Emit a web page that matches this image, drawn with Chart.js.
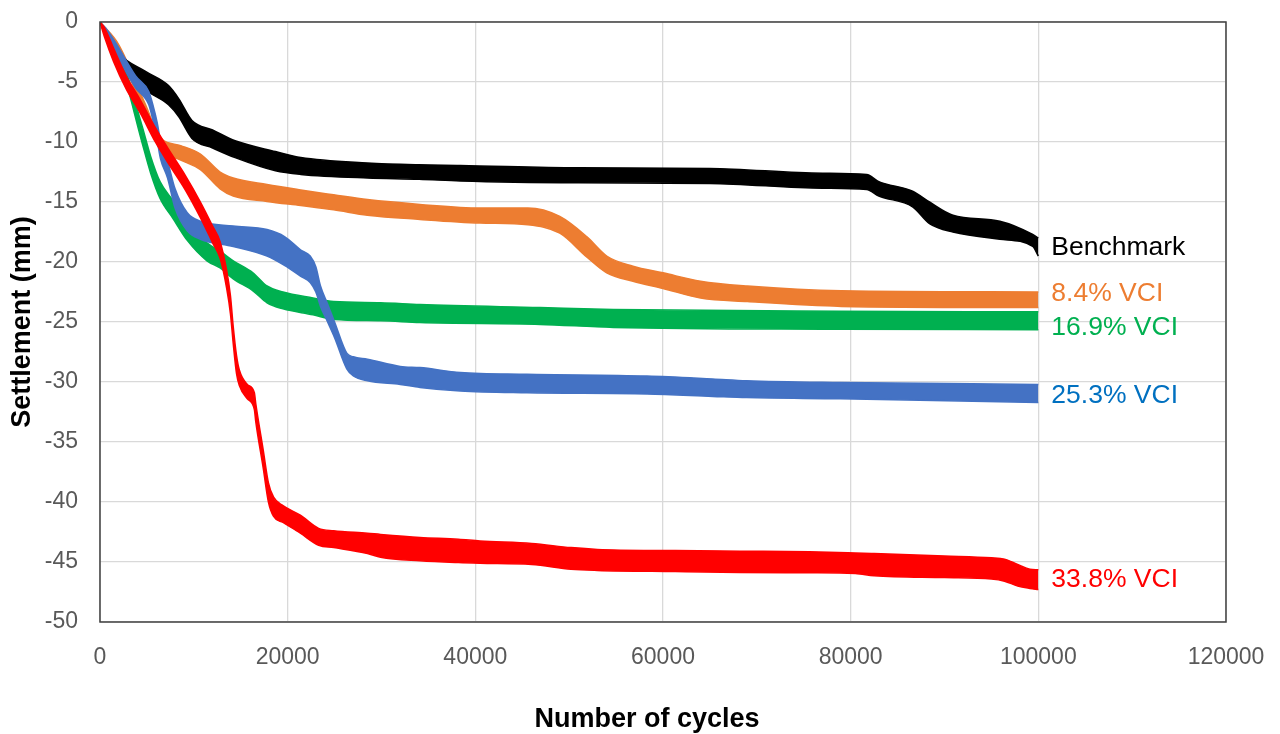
<!DOCTYPE html>
<html>
<head>
<meta charset="utf-8">
<script src="https://cdn.jsdelivr.net/npm/chart.js@4.4.1/dist/chart.umd.min.js"></script>
<style>
  body { margin: 0; background: #fff; }
  #wrap { width: 1280px; height: 734px; position: relative; }
</style>
</head>
<body>
<div id="wrap"><canvas id="settlementChart"></canvas></div>
<script>
// cycles / settlement band (upper and lower edge of the cyclic trace)
const benchX   = [0, 2000, 4800, 7300, 8400, 9800, 12000, 14400, 18700, 21400, 28500, 34000, 38400, 51000, 65000, 77000, 81700, 83000, 86600, 88400, 90900, 95900, 99400, 100000]
const benchTop = [0, -2.6, -4.1, -5.3, -6.4, -8.2, -9.0, -9.9, -10.8, -11.3, -11.75, -11.9, -11.95, -12.15, -12.2, -12.6, -12.7, -13.3, -14.1, -15.0, -16.1, -16.6, -17.7, -18.0]
const benchBot = [0, -3.1, -5.6, -6.9, -7.9, -9.7, -10.5, -11.3, -12.4, -12.7, -13.0, -13.1, -13.25, -13.4, -13.45, -13.85, -13.95, -14.5, -15.4, -16.8, -17.5, -18.1, -18.7, -19.5]

const vci84X   = [0, 2000, 4800, 6400, 8600, 10700, 12800, 14200, 17800, 21400, 24900, 28500, 34100, 40500, 45600, 49000, 51900, 54000, 56800, 60000, 64000, 69000, 79000, 100000]
const vci84Top = [0, -1.9, -6.8, -9.6, -10.3, -11.0, -12.5, -13.0, -13.55, -14.0, -14.4, -14.8, -15.2, -15.5, -15.5, -16.2, -17.9, -19.5, -20.35, -20.9, -21.6, -22.0, -22.4, -22.5]
const vci84Bot = [0, -2.5, -7.8, -10.6, -11.5, -12.3, -13.9, -14.5, -14.95, -15.3, -15.65, -16.1, -16.45, -16.75, -16.9, -17.6, -19.6, -20.9, -21.6, -22.2, -23.0, -23.3, -23.7, -23.8]

const vci169X   = [0, 2200, 4500, 5400, 6400, 7800, 9300, 11400, 12800, 14200, 16300, 17800, 19500, 22700, 24900, 29900, 34100, 46900, 54700, 78900, 100000]
const vci169Top = [0, -2.8, -8.7, -11.2, -13.3, -14.9, -16.7, -18.4, -19.1, -19.9, -20.9, -22.0, -22.5, -23.0, -23.3, -23.4, -23.55, -23.8, -23.95, -24.1, -24.15]
const vci169Bot = [0, -3.5, -10.1, -12.6, -14.7, -16.4, -18.2, -19.9, -20.5, -21.4, -22.4, -23.4, -23.9, -24.4, -24.8, -24.9, -25.05, -25.2, -25.45, -25.6, -25.65]

const vci253X   = [0, 600, 1650, 3800, 5200, 5700, 6100, 6450, 7200, 8000, 9300, 10700, 14200, 17800, 19700, 21400, 22400, 23000, 23500, 24200, 25000, 26300, 27000, 28500, 32000, 34100, 38400, 45500, 58300, 65300, 68900, 78900, 100000]
const vci253Top = [0, -0.5, -1.7, -4.5, -5.8, -7.1, -8.4, -9.9, -11.6, -13.9, -15.9, -16.6, -17.0, -17.3, -17.9, -19.0, -19.5, -20.4, -22.0, -23.4, -25.0, -27.6, -27.9, -28.1, -28.7, -28.8, -29.2, -29.35, -29.5, -29.75, -29.9, -30.05, -30.2]
const vci253Bot = [0, -1.1, -2.6, -5.5, -6.9, -8.4, -9.9, -11.4, -13.0, -15.5, -17.4, -18.1, -18.7, -19.5, -20.3, -21.2, -21.7, -22.5, -23.7, -24.9, -26.3, -28.9, -29.5, -29.9, -30.2, -30.45, -30.75, -30.9, -31.0, -31.2, -31.3, -31.4, -31.7]

const vci338X   = [0, 500, 1450, 2800, 4300, 5900, 7300, 9100, 10700, 12000, 12800, 13500, 13900, 14200, 14550, 14850, 15700, 16450, 16600, 17400, 17950, 18500, 19500, 21350, 23300, 24900, 28500, 29900, 34100, 38200, 40500, 46000, 50200, 53000, 61300, 68200, 75600, 80500, 82500, 90000, 95000, 96400, 97800, 99100, 100000]
const vci338Top = [0, -0.5, -2.2, -4.5, -6.5, -8.8, -10.6, -12.8, -15.0, -17.0, -18.3, -20.7, -22.8, -25.4, -27.8, -29.0, -30.2, -30.9, -31.8, -35.7, -38.4, -39.6, -40.3, -41.1, -42.2, -42.4, -42.6, -42.7, -42.95, -43.1, -43.25, -43.45, -43.8, -43.95, -44.05, -44.1, -44.15, -44.25, -44.3, -44.5, -44.65, -44.76, -45.2, -45.6, -45.65]
const vci338Bot = [0, -1.3, -3.3, -5.6, -7.6, -10.0, -11.8, -14.0, -16.3, -18.4, -19.7, -22.2, -24.3, -26.8, -29.3, -30.3, -31.4, -32.3, -33.3, -37.2, -40.0, -41.2, -41.7, -42.6, -43.6, -43.8, -44.3, -44.6, -44.9, -45.05, -45.1, -45.2, -45.6, -45.7, -45.8, -45.87, -45.9, -45.95, -46.15, -46.3, -46.42, -46.6, -47.0, -47.2, -47.3]

const seriesNames = ["Benchmark", "8.4% VCI", "16.9% VCI", "25.3% VCI", "33.8% VCI"]
const xTicks = [0, 20000, 40000, 60000, 80000, 100000, 120000]
const yTicks = [0, -5, -10, -15, -20, -25, -30, -35, -40, -45, -50]

const lineColors  = ["#000000", "#ED7D31", "#00B050", "#4472C4", "#FF0000"]
const labelColors = ["#000000", "#ED7D31", "#00B050", "#0070C0", "#FF0000"]
// baseline offset (px) of each end label from the middle of its band end
const labelDy = [7.6, 1.4, 13.7, 9.3, 7.3]

const series = [
  { x: benchX, top: benchTop, bot: benchBot },
  { x: vci84X, top: vci84Top, bot: vci84Bot },
  { x: vci169X, top: vci169Top, bot: vci169Bot },
  { x: vci253X, top: vci253Top, bot: vci253Bot },
  { x: vci338X, top: vci338Top, bot: vci338Bot }
]

// drawn top -> bottom: red, blue, black, orange, green
const drawOrder = [4, 3, 0, 1, 2]
const datasets = []
drawOrder.forEach(i => {
  const s = series[i]
  datasets.push({
    label: seriesNames[i] + " upper",
    seriesIndex: i,
    data: s.x.map((x, k) => ({ x: x, y: s.top[k] })),
    borderColor: lineColors[i],
    borderWidth: 1.5,
    pointRadius: 0,
    cubicInterpolationMode: "monotone",
    fill: false
  })
  datasets.push({
    label: seriesNames[i],
    seriesIndex: i,
    data: s.x.map((x, k) => ({ x: x, y: s.bot[k] })),
    borderColor: lineColors[i],
    backgroundColor: lineColors[i],
    borderWidth: 1.5,
    pointRadius: 0,
    cubicInterpolationMode: "monotone",
    fill: "-1"
  })
})

const endLabels = {
  id: "endLabels",
  afterDatasetsDraw(chart) {
    const ctx = chart.ctx
    ctx.save()
    ctx.font = "26.5px 'Liberation Sans', Arial, sans-serif"
    ctx.textAlign = "left"
    ctx.textBaseline = "alphabetic"
    for (let d = 0; d < chart.data.datasets.length; d += 2) {
      const i = chart.data.datasets[d].seriesIndex
      const up = chart.getDatasetMeta(d).data
      const lo = chart.getDatasetMeta(d + 1).data
      const pu = up[up.length - 1]
      const pl = lo[lo.length - 1]
      ctx.fillStyle = labelColors[i]
      ctx.fillText(seriesNames[i], pu.x + 13, (pu.y + pl.y) / 2 + labelDy[i])
    }
    ctx.restore()
  }
}

const frameAndTitles = {
  id: "frameAndTitles",
  afterDraw(chart) {
    const ctx = chart.ctx
    const a = chart.chartArea
    ctx.save()
    ctx.strokeStyle = "#404040"
    ctx.lineWidth = 1.5
    ctx.strokeRect(a.left, a.top, a.right - a.left, a.bottom - a.top)
    ctx.fillStyle = "#000000"
    ctx.font = "bold 27px 'Liberation Sans', Arial, sans-serif"
    ctx.textAlign = "center"
    ctx.textBaseline = "alphabetic"
    ctx.fillText("Number of cycles", 647, 727)
    ctx.translate(30, 322)
    ctx.rotate(-Math.PI / 2)
    ctx.fillText("Settlement (mm)", 0, 0)
    ctx.restore()
  }
}

const tickFont = { family: "'Liberation Sans', Arial, sans-serif", size: 23 }

new Chart(document.getElementById("settlementChart"), {
  type: "line",
  data: { datasets: datasets },
  options: {
    responsive: true,
    maintainAspectRatio: false,
    animation: false,
    layout: { padding: { top: 22, right: 54, left: 0, bottom: 0 } },
    plugins: {
      legend: { display: false },
      tooltip: { enabled: false }
    },
    scales: {
      x: {
        type: "linear",
        min: 0,
        max: 120000,
        afterFit: s => { s.height = 112; s.paddingLeft = 0; s.paddingRight = 0 },
        afterBuildTicks: s => { s.ticks = xTicks.map(v => ({ value: v })) },
        ticks: { color: "#595959", font: tickFont, padding: 22, maxRotation: 0, callback: v => String(v) },
        grid: { color: "#d9d9d9", lineWidth: 1.3, drawTicks: false },
        border: { display: false }
      },
      y: {
        type: "linear",
        min: -50,
        max: 0,
        afterFit: s => { s.width = 100; s.paddingTop = 0; s.paddingBottom = 0 },
        afterBuildTicks: s => { s.ticks = yTicks.map(v => ({ value: v })) },
        ticks: { color: "#595959", font: tickFont, padding: 22, callback: v => String(v) },
        grid: { color: "#d9d9d9", lineWidth: 1.3, drawTicks: false },
        border: { display: false }
      }
    }
  },
  plugins: [endLabels, frameAndTitles]
})
</script>
</body>
</html>
